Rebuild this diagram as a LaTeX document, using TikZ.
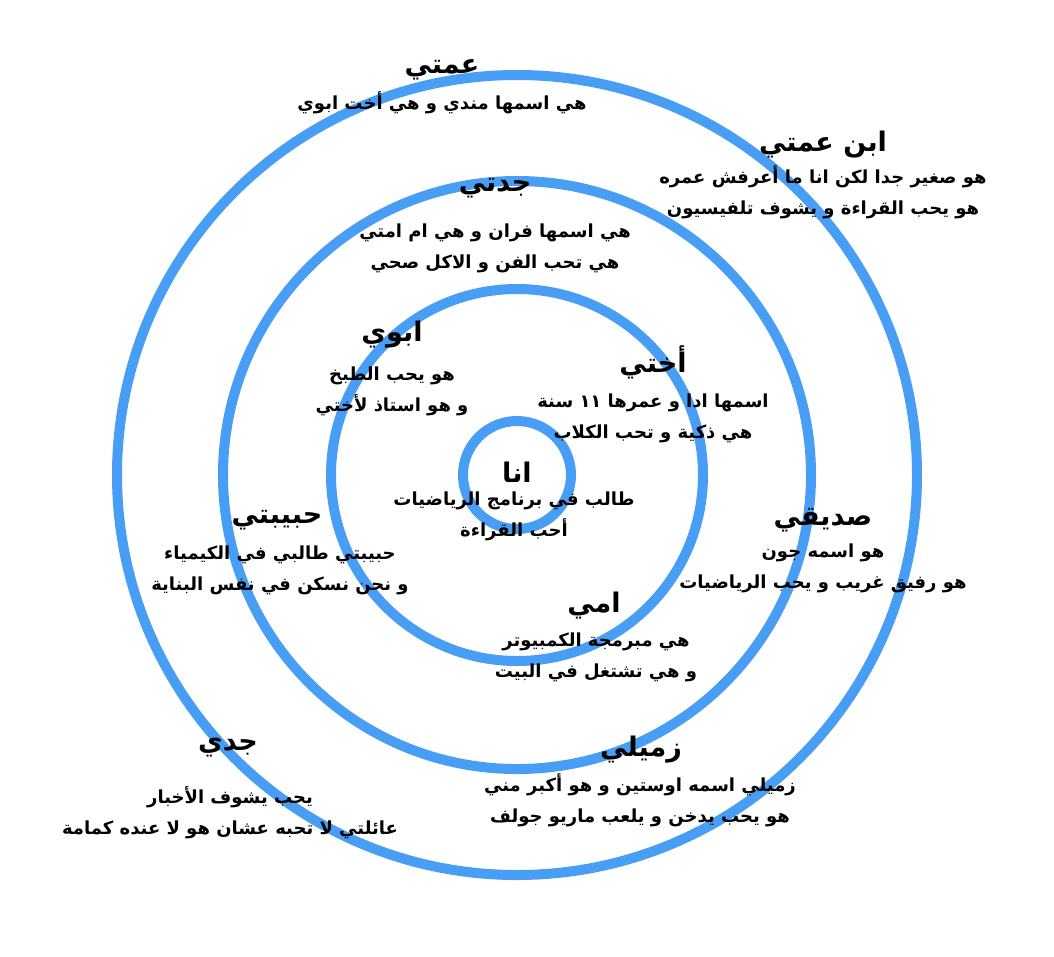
\documentclass[tikz,border=0pt]{standalone}
\usepackage{fontspec}
\newfontfamily\arabicfont[Script=Arabic]{DejaVu Sans}
\TeXXeTstate=1
\definecolor{ringblue}{RGB}{72,157,245}
\newcommand{\ar}[1]{\beginR #1\endR}
\tikzset{
    ring/.style={draw=ringblue, line width=10pt},
    title/.style={font=\arabicfont\bfseries\fontsize{27}{30}\selectfont},
    body/.style={font=\arabicfont\bfseries\fontsize{18}{31}\selectfont, align=center}
}
\begin{document}
\begin{tikzpicture}[x=1pt,y=-1pt]
                \useasboundingbox (0,0) rectangle (1054,956);
                
                \coordinate (c) at (517,475);
                \draw[ring] (c) circle (54);
                \draw[ring] (c) circle (186);
                \draw[ring] (c) circle (294);
                \draw[ring] (c) circle (400);
                
                \node[title] (amma) at (442,70) {\ar{عمتي}};
                \node[body] (amma-t) at (442,103) {\ar{هي اسمها مندي و هي أخت ابوي}};
                
                \node[title] (ibn) at (823,145) {\ar{ابن عمتي}};
                \node[body] (ibn-t) at (823,192) {\ar{هو صغير جدا لكن انا ما أعرفش عمره}\\\ar{هو يحب القراءة و يشوف تلفيسيون}};
                
                \node[title] (jadda) at (495,188) {\ar{جدتي}};
                \node[body] (jadda-t) at (495,248) {\ar{هي اسمها فران و هي ام امتي}\\\ar{هي تحب الفن و الاكل صحي}};
                
                \node[title] (abu) at (392,335) {\ar{ابوي}};
                \node[body] (abu-t) at (392,391) {\ar{هو يحب الطبخ}\\\ar{و هو استاذ لأختي}};
                
                \node[title] (ukht) at (653,362) {\ar{أختي}};
                \node[body] (ukht-t) at (653,418) {\ar{اسمها ادا و عمرها ١١ سنة}\\\ar{هي ذكية و تحب الكلاب}};
                
                \node[title] (ana) at (517,472) {\ar{انا}};
                \node[body] (ana-t) at (514,516) {\ar{طالب في برنامج الرياضيات}\\\ar{أحب القراءة}};
                
                \node[title] (habiba) at (277,520) {\ar{حبيبتي}};
                \node[body] (habiba-t) at (280,570) {\ar{حبيبتي طالبي في الكيمياء}\\\ar{و نحن نسكن في نفس البناية}};
                
                \node[title] (sadiq) at (823,520) {\ar{صديقي}};
                \node[body] (sadiq-t) at (823,568) {\ar{هو اسمه جون}\\\ar{هو رفيق غريب و يحب الرياضيات}};
                
                \node[title] (umm) at (594,606) {\ar{امي}};
                \node[body] (umm-t) at (596,657) {\ar{هي مبرمجة الكمبيوتر}\\\ar{و هي تشتغل في البيت}};
                
                \node[title] (jadd) at (228,748) {\ar{جدي}};
                \node[body] (jadd-t) at (230,813) {\ar{يحب يشوف الأخبار}\\\ar{عائلتي لا تحبه عشان هو لا عنده كمامة}};
                
                \node[title] (zamil) at (641,750) {\ar{زميلي}};
                \node[body] (zamil-t) at (640,800) {\ar{زميلي اسمه اوستين و هو أكبر مني}\\\ar{هو يحب يدخن و يلعب ماريو جولف}};
\end{tikzpicture}
\end{document}
